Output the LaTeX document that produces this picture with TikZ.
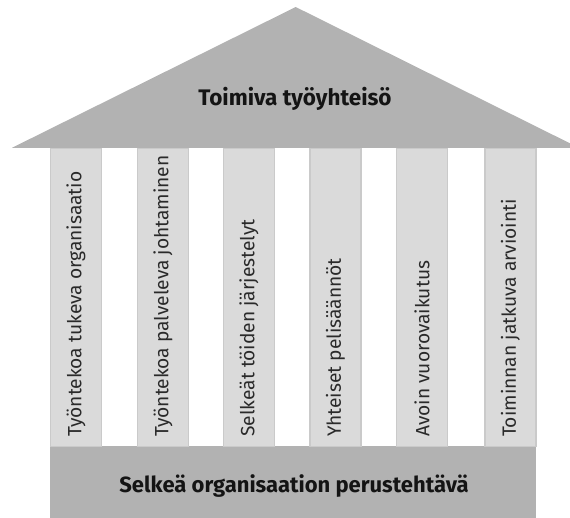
\documentclass[tikz,border=0pt]{standalone}
\usepackage{fontspec}
\setmainfont{Fira Sans}
\definecolor{roofgray}{HTML}{B2B2B2}
\definecolor{pillarfill}{HTML}{DADADA}
\definecolor{pillaredge}{HTML}{CACACA}
\definecolor{txt}{HTML}{141414}
\definecolor{ptxt}{HTML}{2A2A2A}
\begin{document}
\begin{tikzpicture}[x=1pt,y=1pt,
  pillarbox/.style={rectangle,draw=pillaredge,line width=1.2pt,fill=pillarfill,minimum width=51pt,minimum height=298pt,inner sep=0pt},
  pillartext/.style={rotate=90,anchor=west,inner sep=0pt,text=ptxt,font=\fontsize{19.2}{23}\selectfont},
  headtext/.style={text=txt,anchor=base,inner sep=0pt}]
\useasboundingbox (0,0) rectangle (570,-517);
\clip (0,0) rectangle (570,-517);
% roof
\fill[roofgray] (295.7,-7) -- (579,-147.8) -- (12,-147.8) -- cycle;
\node[headtext,font=\fontsize{22.5}{27}\selectfont\bfseries] (roof) at (295,-105) {Toimiva työyhteisö};
% base
\node[rectangle,fill=roofgray,minimum width=486pt,minimum height=72pt,inner sep=0pt] (base) at (293,-482) {};
\node[headtext,font=\fontsize{22}{26}\selectfont\bfseries] (basetext) at (294,-492) {Selkeä organisaation perustehtävä};
% pillars
\node[pillarbox] (p1) at (76,-297.5) {};
\node[pillarbox] (p2) at (163,-297.5) {};
\node[pillarbox] (p3) at (249,-297.5) {};
\node[pillarbox] (p4) at (335.5,-297.5) {};
\node[pillarbox] (p5) at (422,-297.5) {};
\node[pillarbox] (p6) at (510.5,-297.5) {};
\node[pillartext] (t1) at ([yshift=10pt]p1.south) {Työntekoa tukeva organisaatio};
\node[pillartext] (t2) at ([yshift=10pt]p2.south) {Työntekoa palveleva johtaminen};
\node[pillartext] (t3) at ([yshift=10pt]p3.south) {Selkeät töiden järjestelyt};
\node[pillartext] (t4) at ([yshift=10pt]p4.south) {Yhteiset pelisäännöt};
\node[pillartext] (t5) at ([yshift=10pt]p5.south) {Avoin vuorovaikutus};
\node[pillartext] (t6) at ([yshift=10pt]p6.south) {Toiminnan jatkuva arviointi};
\end{tikzpicture}
\end{document}
